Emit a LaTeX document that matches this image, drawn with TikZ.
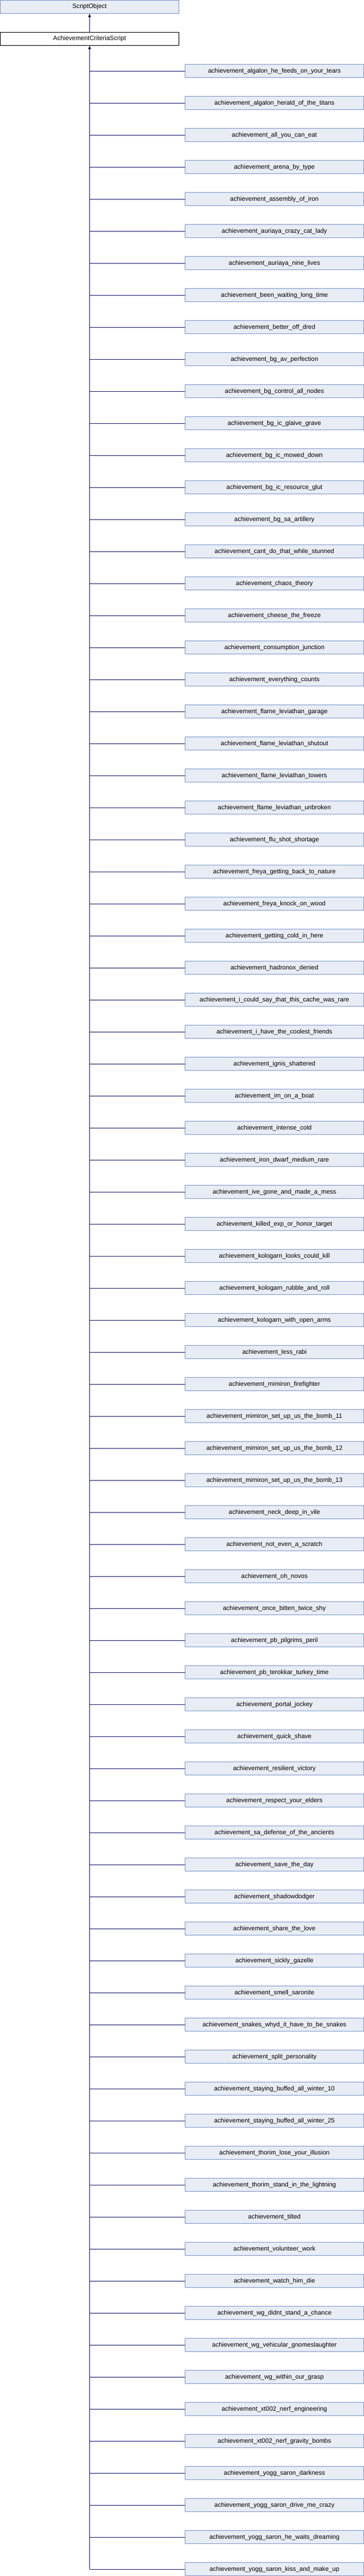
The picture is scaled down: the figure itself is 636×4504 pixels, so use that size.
\documentclass[tikz,border=0pt]{standalone}
\usepackage{fontspec}
\setmainfont{Liberation Sans}
\usetikzlibrary{arrows.meta}
\definecolor{boxfill}{RGB}{232,236,244}
\definecolor{boxline}{RGB}{124,149,202}
\definecolor{linkline}{RGB}{25,25,112}

\begin{document}
\begin{tikzpicture}[x=1pt,y=-1pt,
  cls/.style={rectangle,draw=boxline,fill=boxfill,line width=1pt,inner sep=0pt,
    minimum width=312pt,minimum height=23pt,anchor=north west,font=\fontsize{11}{13}\selectfont},
  cur/.style={cls,draw=black,fill=white},
  link/.style={draw=linkline,line width=1pt},
  inh/.style={link,-{Triangle[length=6pt,width=5pt]}}]
\useasboundingbox (0,0) rectangle (636,4504);
\node[cls] (so) at (0,0) {ScriptObject};
\node[cur] (acs) at (0,56) {AchievementCriteriaScript};
\draw[inh] (acs.north) -- (so.south);
\foreach \name [count=\i] in {
  achievement\_algalon\_he\_feeds\_on\_your\_tears,
  achievement\_algalon\_herald\_of\_the\_titans,
  achievement\_all\_you\_can\_eat,
  achievement\_arena\_by\_type,
  achievement\_assembly\_of\_iron,
  achievement\_auriaya\_crazy\_cat\_lady,
  achievement\_auriaya\_nine\_lives,
  achievement\_been\_waiting\_long\_time,
  achievement\_better\_off\_dred,
  achievement\_bg\_av\_perfection,
  achievement\_bg\_control\_all\_nodes,
  achievement\_bg\_ic\_glaive\_grave,
  achievement\_bg\_ic\_mowed\_down,
  achievement\_bg\_ic\_resource\_glut,
  achievement\_bg\_sa\_artillery,
  achievement\_cant\_do\_that\_while\_stunned,
  achievement\_chaos\_theory,
  achievement\_cheese\_the\_freeze,
  achievement\_consumption\_junction,
  achievement\_everything\_counts,
  achievement\_flame\_leviathan\_garage,
  achievement\_flame\_leviathan\_shutout,
  achievement\_flame\_leviathan\_towers,
  achievement\_flame\_leviathan\_unbroken,
  achievement\_flu\_shot\_shortage,
  achievement\_freya\_getting\_back\_to\_nature,
  achievement\_freya\_knock\_on\_wood,
  achievement\_getting\_cold\_in\_here,
  achievement\_hadronox\_denied,
  achievement\_i\_could\_say\_that\_this\_cache\_was\_rare,
  achievement\_i\_have\_the\_coolest\_friends,
  achievement\_ignis\_shattered,
  achievement\_im\_on\_a\_boat,
  achievement\_intense\_cold,
  achievement\_iron\_dwarf\_medium\_rare,
  achievement\_ive\_gone\_and\_made\_a\_mess,
  achievement\_killed\_exp\_or\_honor\_target,
  achievement\_kologarn\_looks\_could\_kill,
  achievement\_kologarn\_rubble\_and\_roll,
  achievement\_kologarn\_with\_open\_arms,
  achievement\_less\_rabi,
  achievement\_mimiron\_firefighter,
  achievement\_mimiron\_set\_up\_us\_the\_bomb\_11,
  achievement\_mimiron\_set\_up\_us\_the\_bomb\_12,
  achievement\_mimiron\_set\_up\_us\_the\_bomb\_13,
  achievement\_neck\_deep\_in\_vile,
  achievement\_not\_even\_a\_scratch,
  achievement\_oh\_novos,
  achievement\_once\_bitten\_twice\_shy,
  achievement\_pb\_pilgrims\_peril,
  achievement\_pb\_terokkar\_turkey\_time,
  achievement\_portal\_jockey,
  achievement\_quick\_shave,
  achievement\_resilient\_victory,
  achievement\_respect\_your\_elders,
  achievement\_sa\_defense\_of\_the\_ancients,
  achievement\_save\_the\_day,
  achievement\_shadowdodger,
  achievement\_share\_the\_love,
  achievement\_sickly\_gazelle,
  achievement\_smell\_saronite,
  achievement\_snakes\_whyd\_it\_have\_to\_be\_snakes,
  achievement\_split\_personality,
  achievement\_staying\_buffed\_all\_winter\_10,
  achievement\_staying\_buffed\_all\_winter\_25,
  achievement\_thorim\_lose\_your\_illusion,
  achievement\_thorim\_stand\_in\_the\_lightning,
  achievement\_tilted,
  achievement\_volunteer\_work,
  achievement\_watch\_him\_die,
  achievement\_wg\_didnt\_stand\_a\_chance,
  achievement\_wg\_vehicular\_gnomeslaughter,
  achievement\_wg\_within\_our\_grasp,
  achievement\_xt002\_nerf\_engineering,
  achievement\_xt002\_nerf\_gravity\_bombs,
  achievement\_yogg\_saron\_darkness,
  achievement\_yogg\_saron\_drive\_me\_crazy,
  achievement\_yogg\_saron\_he\_waits\_dreaming,
  achievement\_yogg\_saron\_kiss\_and\_make\_up}
{
  \node[cls] (c\i) at (323,{112.3+56*(\i-1)}) {\name};
  \draw[link] (c\i.west) -- (acs.south |- c\i.west);
}
\draw[inh] (acs.south |- c79.west) -- (acs.south);
\end{tikzpicture}
\end{document}
